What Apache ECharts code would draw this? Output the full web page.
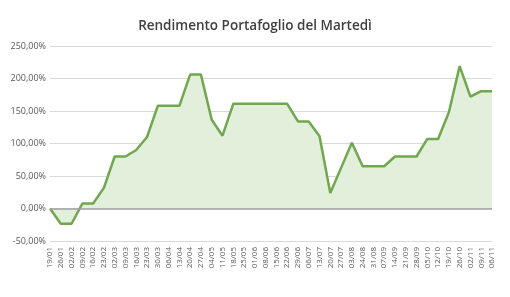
<!DOCTYPE html>
<html><head><meta charset="utf-8">
<script src="https://cdn.jsdelivr.net/npm/echarts@6/dist/echarts.min.js"></script>
<style>html,body{margin:0;padding:0;background:#fff}#c{width:510px;height:297px}</style>
</head><body><div id="c"></div>
<script>
const categories = ['19/01','26/01','02/02','09/02','16/02','23/02','02/03','09/03','16/03','23/03','30/03','06/04','13/04','20/04','27/04','04/05','11/05','18/05','25/05','01/06','08/06','15/06','22/06','29/06','06/07','13/07','20/07','27/07','03/08','24/08','31/08','07/09','14/09','21/09','28/09','05/10','12/10','19/10','26/10','02/11','09/11','06/11'];
const rendimento = [0,-23.5,-23.5,7.6,7.6,31.7,80,80,90,110,158,158,158,206,206,136.5,112,161,161,161,161,161,161,134,134,111,24,62.5,101,65,65,65,80,80,80,107,107,148,219,172,180.5,180.5];
const yTicks = {min:-50, max:250, interval:50};

const chart = echarts.init(document.getElementById('c'));
chart.setOption({
  animation:false,
  title:{text:'Rendimento Portafoglio del Martedì', left:'center', top:14,
    textStyle:{fontFamily:'Open Sans', fontSize:13.5, fontWeight:600, color:'#404040'}},
  grid:{left:50, right:18, top:46, bottom:56},
  xAxis:{type:'category', data:categories, boundaryGap:false,
    axisLine:{show:false}, axisTick:{show:false},
    axisLabel:{rotate:90, interval:0, fontSize:8, color:'#595959', fontFamily:'Open Sans', margin:6}},
  yAxis:{type:'value', min:yTicks.min, max:yTicks.max, interval:yTicks.interval,
    axisLine:{show:false}, axisTick:{show:false},
    splitLine:{lineStyle:{color:'#d9d9d9', width:1}},
    axisLabel:{fontSize:9, color:'#595959', fontFamily:'Open Sans', margin:4,
      formatter:v=>v.toFixed(2).replace('.',',')+'%'}},
  series:[{type:'line', data:rendimento, symbol:'none',
    lineStyle:{color:'#70a74f', width:2.5},
    areaStyle:{color:'#e2efda', opacity:1, origin:0},
    markLine:{silent:true, symbol:'none', label:{show:false},
      lineStyle:{color:'#a0a0a0', type:'solid', width:1.5}, data:[{yAxis:0}]}}]
});
</script></body></html>
